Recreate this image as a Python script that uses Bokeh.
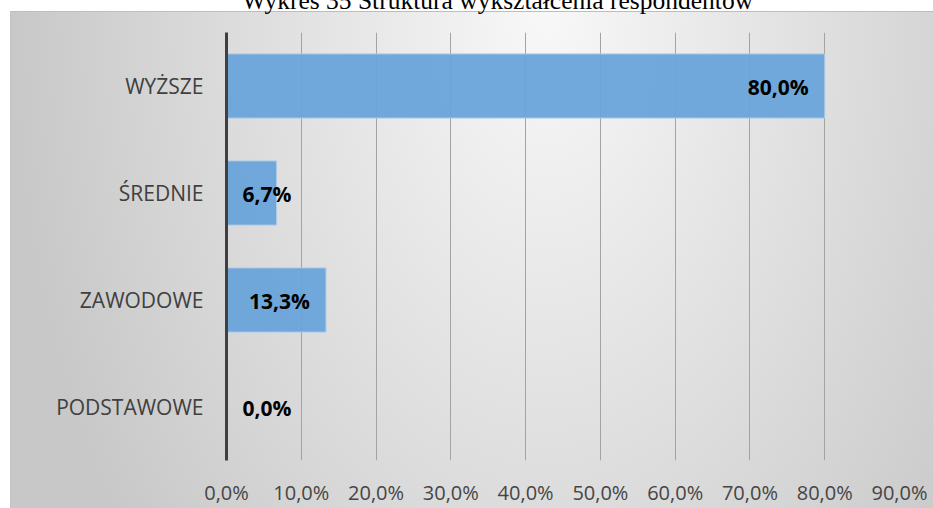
from bokeh.plotting import figure
from bokeh.models import ColumnDataSource, FactorRange, Range1d, FixedTicker, Label
from bokeh.core.properties import value, field
from bokeh.embed import file_html
from bokeh.resources import INLINE

# ---- data ----
title_text = "Wykres 35 Struktura wykształcenia respondentów"
categories = ["WYŻSZE", "ŚREDNIE", "ZAWODOWE", "PODSTAWOWE"]
shares = [80.0, 6.7, 13.3, 0.0]
x_ticks = [0, 10, 20, 30, 40, 50, 60, 70, 80, 90]
x_max = 90


def pl_pct(v):
    return f"{v:.1f}".replace(".", ",") + "%"


fits = [v >= 10 for v in shares]
src = ColumnDataSource(dict(
    cat=categories,
    val=shares,
    lbl=[pl_pct(v) for v in shares],
    lx=[v if f else 0 for v, f in zip(shares, fits)],
    align=["right" if f else "left" for f in fits],
    xoff=[-16 if f else 16 for f in fits],
))

W, H = 933, 508
BL, BR, BT, BB = 226, 34, 32, 44
p = figure(
    width=W, height=H,
    y_range=FactorRange(factors=list(reversed(categories)), range_padding=0),
    x_range=Range1d(0, x_max),
    output_backend="svg", toolbar_location=None,
    min_border_left=BL, min_border_right=BR,
    min_border_top=BT, min_border_bottom=BB,
)
p.background_fill_color = None
p.border_fill_color = None
p.outline_line_color = None
p.styles = {
    "background-color": "#ffffff",
    "background-image": (
        "linear-gradient(#bdbdbd, #bdbdbd), "
        "linear-gradient(#c4c4c4, #c4c4c4), "
        "radial-gradient(ellipse 535px 855px at 535px 0px, #f8f8f8 0%, #c8c8c8 100%)"
    ),
    "background-position": "10px 11px, 10px 11px, 10px 11px",
    "background-size": "923px 1px, 1px 497px, 923px 497px",
    "background-repeat": "no-repeat",
}

# bars
p.hbar(y="cat", right="val", left=0, height=0.6, source=src,
       fill_color="#6aa4da", fill_alpha=0.95,
       line_color="#aecdea", line_width=1)

# data labels
p.text(x="lx", y="cat", text="lbl", source=src,
       text_align=field("align"), x_offset="xoff", y_offset=1,
       text_baseline="middle",
       text_font=value("Open Sans"), text_font_size="21px",
       text_font_style="bold", text_color="#000000")

# x axis
xa = p.xaxis[0]
xa.ticker = FixedTicker(ticks=x_ticks)
xa.major_label_overrides = {t: pl_pct(t) for t in x_ticks}
xa.axis_line_color = None
xa.major_tick_line_color = None
xa.minor_tick_line_color = None
xa.major_tick_out = 0
xa.major_tick_in = 0
xa.major_label_standoff = 18
xa.major_label_text_font = "Open Sans"
xa.major_label_text_font_size = "20px"
xa.major_label_text_color = "#454545"

# y axis
ya = p.yaxis[0]
ya.axis_line_color = "#404040"
ya.axis_line_width = 3
ya.major_tick_line_color = None
ya.minor_tick_line_color = None
ya.major_tick_out = 0
ya.major_tick_in = 0
ya.major_label_standoff = 23
ya.major_label_text_font = "Open Sans"
ya.major_label_text_font_size = "21px"
ya.major_label_text_color = "#404040"

p.xgrid.grid_line_color = "#a3a3a3"
p.xgrid.grid_line_width = 1
p.ygrid.grid_line_color = None

# title, cut by the top edge as in the reference (placed in the top panel)
p.add_layout(Label(x=497, y=0, x_units="canvas", y_units="canvas",
                   text=title_text, text_align="center",
                   text_baseline="alphabetic",
                   text_font="Liberation Serif", text_font_size="25.5px",
                   text_color="#000000"), "above")

open("out.html", "w").write(file_html(p, INLINE))
